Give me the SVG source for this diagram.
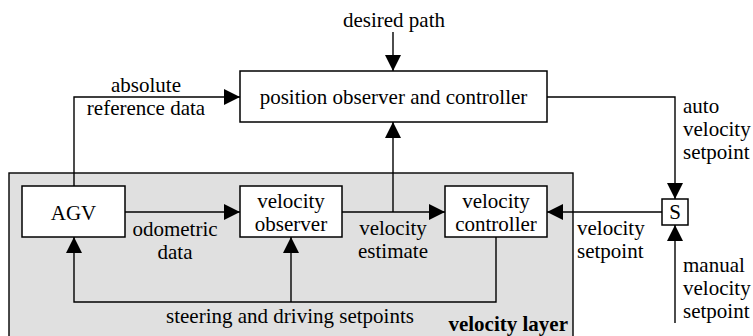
<svg xmlns="http://www.w3.org/2000/svg" width="753" height="336" viewBox="0 0 753 336">
<defs>
<marker id="ah" markerUnits="userSpaceOnUse" markerWidth="16" markerHeight="16" refX="16" refY="8" orient="auto" viewBox="0 0 16 16">
<path d="M0,0 L16,8 L0,16 z" fill="#000"/>
</marker>
</defs>
<style>
text{font-family:"Liberation Serif","DejaVu Serif",serif;font-size:21px;fill:#000}
.c{text-anchor:middle}
.box{fill:#fff;stroke:#000;stroke-width:1.5}
.ln{fill:none;stroke:#000;stroke-width:1.4}
.a{marker-end:url(#ah)}
</style>
<g id="velocity-layer">
<rect x="9" y="173" width="564" height="170" fill="#e0e0e0" stroke="#000" stroke-width="1.4"/>
<text x="568" y="331" text-anchor="end" font-weight="bold">velocity layer</text>
</g>
<g id="connectors">
<path class="ln a" d="M393,32 V71"/>
<path class="ln a" d="M74,186 V97 H240"/>
<path class="ln a" d="M547,97 H675 V199"/>
<path class="ln a" d="M662,212 H547"/>
<path class="ln a" d="M675,323 V225"/>
<path class="ln a" d="M125,212 H240"/>
<path class="ln a" d="M342,212 H445"/>
<path class="ln a" d="M393,212 V122"/>
<path class="ln a" d="M496,237 V302 H74 V237"/>
<path class="ln a" d="M291,302 V237"/>
</g>
<g id="labels">
<text class="c" x="394" y="27">desired path</text>
<text class="c" x="146" y="92">absolute</text>
<text class="c" x="146" y="115">reference data</text>
<text x="683" y="113">auto</text>
<text x="683" y="136">velocity</text>
<text x="683" y="159">setpoint</text>
<text x="683" y="272">manual</text>
<text x="683" y="295">velocity</text>
<text x="683" y="318">setpoint</text>
<text x="577" y="235">velocity</text>
<text x="577" y="258">setpoint</text>
<text class="c" x="175" y="236">odometric</text>
<text class="c" x="175" y="259">data</text>
<text class="c" x="393" y="235">velocity</text>
<text class="c" x="393" y="258">estimate</text>
<text class="c" x="290" y="323">steering and driving setpoints</text>
</g>
<g id="position-observer">
<rect class="box" x="240" y="71" width="307" height="51"/>
<text class="c" x="393.5" y="104">position observer and controller</text>
</g>
<g id="agv">
<rect class="box" x="22" y="186" width="103" height="51"/>
<text class="c" x="73.5" y="220">AGV</text>
</g>
<g id="velocity-observer">
<rect class="box" x="240" y="186" width="102" height="51"/>
<text class="c" x="291" y="208">velocity</text>
<text class="c" x="291" y="231">observer</text>
</g>
<g id="velocity-controller">
<rect class="box" x="445" y="186" width="102" height="51"/>
<text class="c" x="496" y="208">velocity</text>
<text class="c" x="496" y="231">controller</text>
</g>
<g id="switch">
<rect class="box" x="662" y="199" width="26" height="26"/>
<text class="c" x="675" y="219">S</text>
</g>
</svg>
